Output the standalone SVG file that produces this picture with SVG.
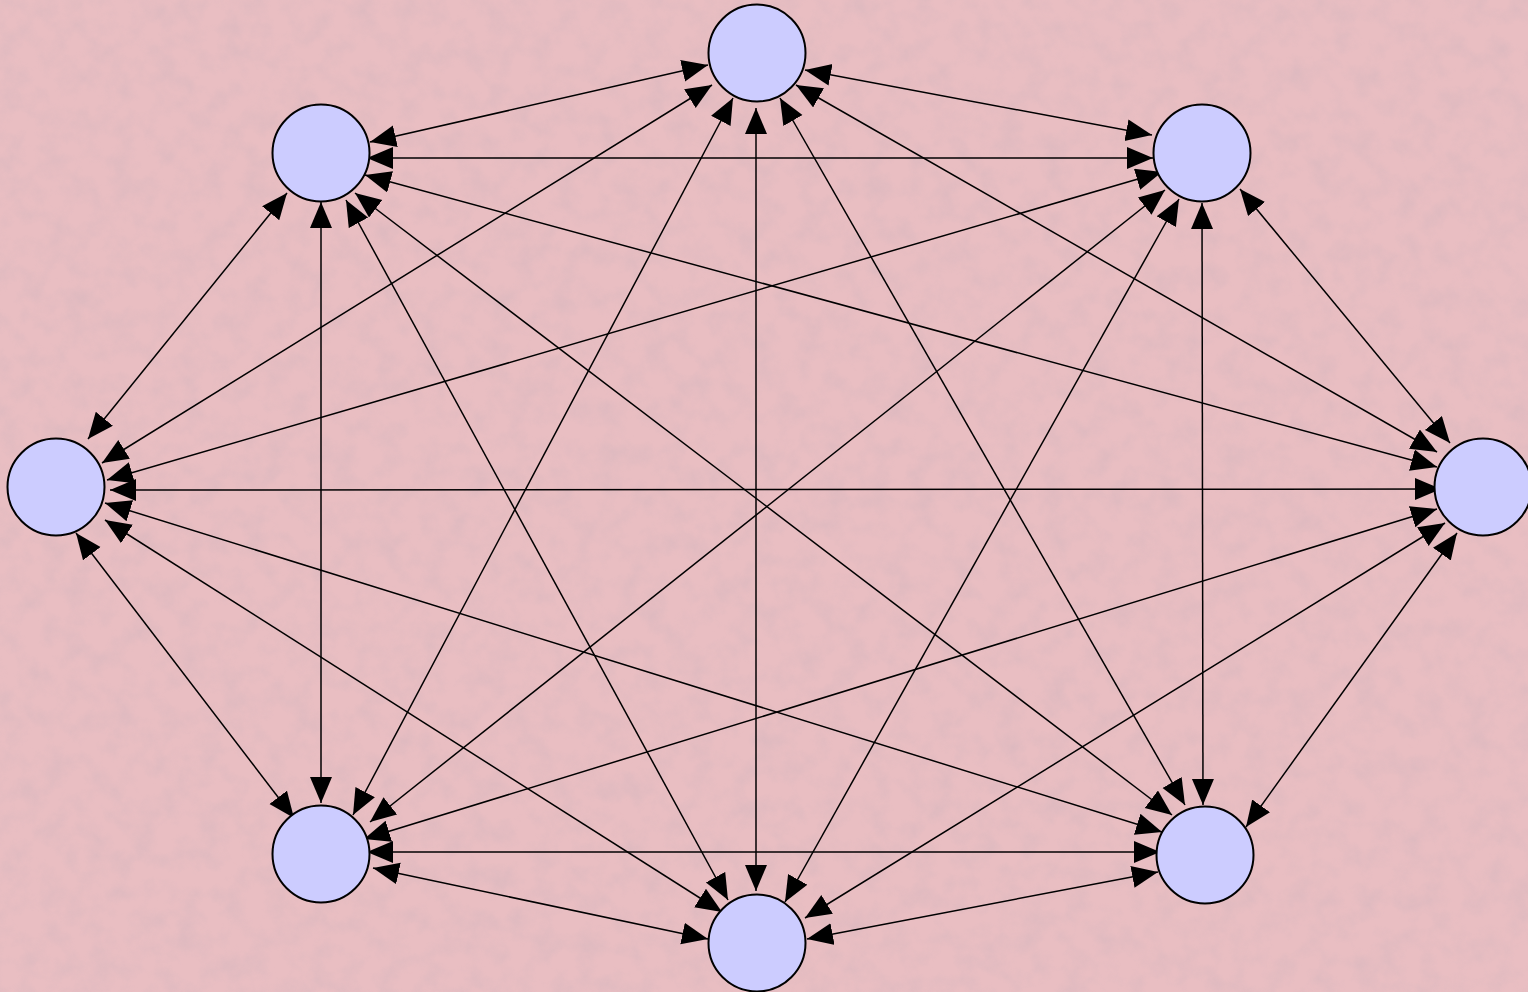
<svg xmlns="http://www.w3.org/2000/svg" width="1528" height="992" viewBox="0 0 1528 992">
<defs>
<style>
.edge{stroke:#000;stroke-width:1.5;fill:none;marker-start:url(#ah);marker-end:url(#ah)}
.node{fill:#ccccff;stroke:#000;stroke-width:2}
</style>
<marker id="ah" markerUnits="userSpaceOnUse" markerWidth="28" markerHeight="24" refX="26" refY="11" orient="auto-start-reverse" viewBox="0 0 28 24">
<path d="M0,0 L26,11 L0,22 z" fill="#000"/>
</marker>
<filter id="tex" x="0" y="0" width="100%" height="100%">
<feTurbulence type="fractalNoise" baseFrequency="0.045" numOctaves="4" seed="7"/>
<feColorMatrix type="matrix" values="0 0 0 0 0.7  0 0 0 0 0.48  0 0 0 0 0.52  1.8 0 0 0 -0.7"/>
</filter>
</defs>
<rect width="1528" height="992" fill="#e9bec2"/>
<rect width="1528" height="992" filter="url(#tex)" opacity="0.7"/>
<g id="connectors">
<line class="edge" x1="708" y1="65" x2="370" y2="142"/>
<line class="edge" x1="805" y1="70" x2="1152" y2="135"/>
<line class="edge" x1="712" y1="85" x2="102" y2="463"/>
<line class="edge" x1="796" y1="85" x2="1437" y2="452"/>
<line class="edge" x1="733" y1="98" x2="353" y2="815"/>
<line class="edge" x1="780" y1="98" x2="1185" y2="805"/>
<line class="edge" x1="756" y1="108" x2="756" y2="891"/>
<line class="edge" x1="367" y1="158" x2="1153" y2="158"/>
<line class="edge" x1="287" y1="193" x2="88" y2="439"/>
<line class="edge" x1="365" y1="175" x2="1437" y2="467"/>
<line class="edge" x1="321" y1="202" x2="321" y2="803"/>
<line class="edge" x1="355" y1="193" x2="1172" y2="815"/>
<line class="edge" x1="346" y1="200" x2="728" y2="900"/>
<line class="edge" x1="1162" y1="172" x2="107" y2="480"/>
<line class="edge" x1="1240" y1="189" x2="1450" y2="443"/>
<line class="edge" x1="1165" y1="190" x2="370" y2="822"/>
<line class="edge" x1="1202" y1="203" x2="1203" y2="805"/>
<line class="edge" x1="1179" y1="199" x2="785" y2="902"/>
<line class="edge" x1="110" y1="490" x2="1441" y2="489"/>
<line class="edge" x1="76" y1="533" x2="294" y2="818"/>
<line class="edge" x1="105" y1="503" x2="1162" y2="832"/>
<line class="edge" x1="105" y1="520" x2="722" y2="912"/>
<line class="edge" x1="1437" y1="509" x2="364" y2="839"/>
<line class="edge" x1="1457" y1="533" x2="1246" y2="827"/>
<line class="edge" x1="1445" y1="523" x2="805" y2="918"/>
<line class="edge" x1="367" y1="852" x2="1160" y2="852"/>
<line class="edge" x1="373" y1="868" x2="708" y2="939"/>
<line class="edge" x1="1158" y1="872" x2="807" y2="939"/>
</g>
<g id="node-top"><circle class="node" cx="757" cy="53" r="48.5"/></g>
<g id="node-top-left"><circle class="node" cx="321" cy="153" r="48.5"/></g>
<g id="node-top-right"><circle class="node" cx="1202" cy="153" r="48.5"/></g>
<g id="node-left"><circle class="node" cx="56" cy="487" r="48.5"/></g>
<g id="node-right"><circle class="node" cx="1483" cy="487" r="48.5"/></g>
<g id="node-bottom-left"><circle class="node" cx="321" cy="854" r="48.5"/></g>
<g id="node-bottom-right"><circle class="node" cx="1205" cy="855" r="48.5"/></g>
<g id="node-bottom"><circle class="node" cx="757" cy="943" r="48.5"/></g>
</svg>
